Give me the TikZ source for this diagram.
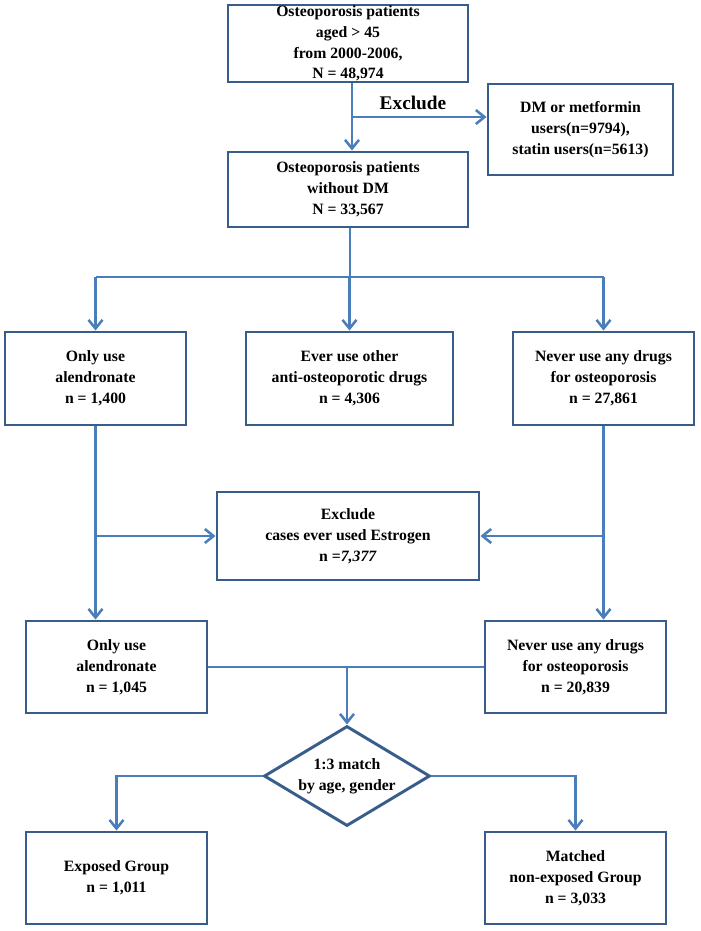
\documentclass[tikz,border=0pt]{standalone}
\usepackage{fontspec}
\setmainfont{Liberation Serif}
\usetikzlibrary{arrows.meta,shapes.geometric}
\definecolor{boxc}{RGB}{56,93,138}
\definecolor{linec}{RGB}{74,126,187}
\begin{document}
\begin{tikzpicture}[x=0.75pt,y=-0.75pt,
  box/.style={draw=boxc, line width=2.2pt, fill=white, align=center, inner sep=0pt,
    font=\bfseries\fontsize{11.8}{15.6}\selectfont},
  conn/.style={draw=linec, line width=1.9pt},
  arr/.style={conn, -{Straight Barb[length=6.5pt,width=10.5pt]}}]
\useasboundingbox (0,0) rectangle (700,931);
\fill[white] (0,0) rectangle (700,931);

\node[box, minimum width=180pt, minimum height=57.75pt] (b1) at (348,43.5)
  {\fontsize{11.8}{14.8}\selectfont Osteoporosis patients\\aged > 45\\from 2000-2006,\\N = 48,974};
\node[box, minimum width=138.75pt, minimum height=68.25pt] (dm) at (580.5,129.5)
  {DM or metformin\\users(n=9794),\\statin users(n=5613)};
\node[box, minimum width=180pt, minimum height=56.25pt] (b2) at (348,189.5)
  {Osteoporosis patients\\without DM\\N = 33,567};
\node[box, minimum width=135.75pt, minimum height=69.75pt] (a1) at (95.5,378.5)
  {Only use\\alendronate\\n = 1,400};
\node[box, minimum width=155.25pt, minimum height=69.75pt] (o1) at (349.5,378.5)
  {Ever use other\\anti-osteoporotic drugs\\n = 4,306};
\node[box, minimum width=135.75pt, minimum height=69.75pt] (n1) at (603.5,378.5)
  {Never use any drugs\\for osteoporosis\\n = 27,861};
\node[box, minimum width=196.5pt, minimum height=66pt] (ex) at (348,536)
  {Exclude\\cases ever used Estrogen\\n =\textit{7,377}};
\node[box, minimum width=135.75pt, minimum height=69pt] (a2) at (116.5,667)
  {Only use\\alendronate\\n = 1,045};
\node[box, minimum width=135.75pt, minimum height=69pt] (n2) at (575.5,667)
  {Never use any drugs\\for osteoporosis\\n = 20,839};
\node[box, diamond, aspect=1.66, minimum width=124.5pt, minimum height=75pt] (dia) at (347,776)
  {1:3 match\\by age, gender};
\node[box, minimum width=135.75pt, minimum height=69pt] (e1) at (116.5,878)
  {Exposed Group\\n = 1,011};
\node[box, minimum width=135.75pt, minimum height=69pt] (e2) at (575.5,878)
  {Matched\\non-exposed Group\\n = 3,033};

\node[font=\bfseries\fontsize{14.5}{16}\selectfont] (exl) at (413,103) {Exclude};

% top
\draw[arr] ([xshift=3pt]b1.south) -- ([xshift=3pt]b2.north);
\coordinate (j1) at (352,117);
\draw[arr] (j1) -- (j1 -| dm.west);

% split into three
\coordinate (j2) at (350,277);
\draw[conn] (j2 |- b2.south) -- (j2);
\draw[conn] (a1.north |- j2) -- (n1.north |- j2);
\draw[arr] (a1.north |- j2) -- (a1.north);
\draw[arr] (o1.north |- j2) -- (o1.north);
\draw[arr] (n1.north |- j2) -- (n1.north);

% exclusion of estrogen
\draw[arr] (a1.south) -- (a1.south |- a2.north);
\draw[arr] (a1.south |- ex.west) -- (ex.west);
\draw[arr] (n1.south) -- (n1.south |- n2.north);
\draw[arr] (n1.south |- ex.east) -- (ex.east);

% to matching
\draw[conn] (a2.east) -- (n2.west);
\draw[arr] (dia.north |- a2.east) -- (dia.north);
\draw[arr] (dia.west) -| (e1.north);
\draw[arr] (dia.east) -| (e2.north);
\end{tikzpicture}
\end{document}
